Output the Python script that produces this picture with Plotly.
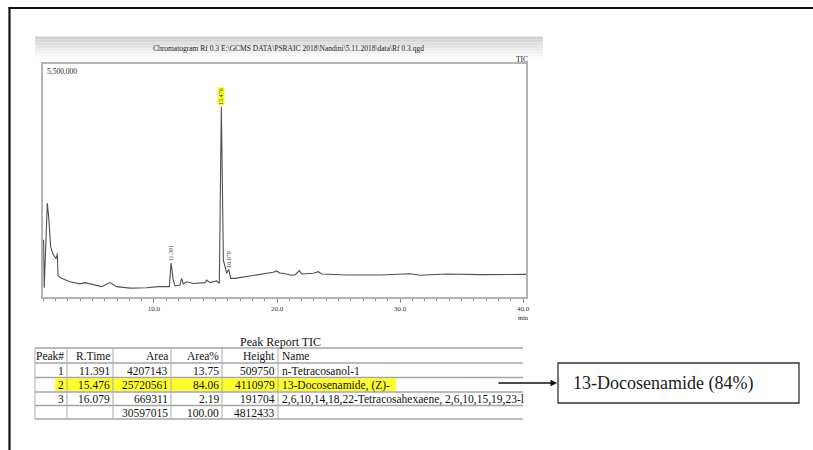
import plotly.graph_objects as go

# ---- chromatogram (TIC) read-off: retention time (min) vs. counts ----
rt_min = [0.99, 1.03, 1.08, 1.17, 1.33, 1.44, 1.60, 1.76, 2.03, 2.12, 2.14, 2.20,
          2.49, 3.17, 3.98, 4.39, 4.80, 5.75, 6.42, 6.96, 8.05, 9.40, 10.35, 11.25,
          11.391, 11.57, 11.71, 12.11, 12.25, 12.38, 12.66, 13.20, 14.15, 14.28,
          14.55, 15.10, 15.31, 15.476, 15.64, 15.77, 15.91, 16.079, 16.23, 16.59,
          17.53, 18.62, 19.70, 19.97, 20.24, 20.51, 21.06, 21.46, 21.82, 22.00,
          22.95, 23.36, 23.63, 25.66, 28.37, 30.81, 31.63, 33.80, 36.50, 40.24]
tic_counts = [1300000, 1350000, 220000, 900000, 2210000, 1900000, 1190000, 1030000,
              910000, 980000, 1030000, 500000, 440000, 360000, 310000, 340000,
              310000, 245000, 340000, 245000, 210000, 220000, 245000, 245000,
              800000, 400000, 260000, 280000, 440000, 310000, 360000, 320000,
              340000, 400000, 340000, 380000, 320000, 4490000, 870000, 680000,
              560000, 650000, 440000, 440000, 480000, 535000, 583000, 614000,
              559000, 559000, 519000, 519000, 621000, 543000, 559000, 597000,
              543000, 519000, 519000, 550000, 512000, 543000, 527000, 535000]

x_tickvals = [10, 20, 30, 40]
x_ticktext = ["10.0", "20.0", "30.0", "40.0"]
y_top_label = "5,500,000"

# ---- peak report ----
peak_no = [1, 2, 3]
r_time = [11.391, 15.476, 16.079]
area = [4207143, 25720561, 669311]
area_pct = [13.75, 84.06, 2.19]
height = [509750, 4110979, 191704]
names = ["n-Tetracosanol-1", "13-Docosenamide, (Z)-",
         "2,6,10,14,18,22-Tetracosahexaene, 2,6,10,15,19,23-l"]
headers = ["Peak#", "R.Time", "Area", "Area%", "Height", "Name"]
main_peak = 2
callout = "13-Docosenamide (84%)"
title_text = "Chromatogram Rf 0.3 E:\\GCMS DATA\\PSRAIC 2018\\Nandini\\5.11.2018\\data\\Rf 0.3.qgd"

# ---- page geometry (pixels) ----
W, H = 813, 450
L, R, T, B = 43, 526, 64, 297


def px(x):
    return (x - L) / (R - L)


def py(y):
    return (B - y) / (B - T)


SERIF = "Liberation Serif, Times New Roman, serif"


def label(text, x, y, size, xanchor="center", color="#1a1a1a"):
    return dict(text=text, xref="paper", yref="paper", x=px(x), y=py(y),
                xanchor=xanchor, yanchor="middle", showarrow=False,
                font=dict(family=SERIF, size=size, color=color))


fig = go.Figure()
fig.add_trace(go.Scatter(x=rt_min, y=tic_counts, mode="lines",
                         line=dict(color="#505050", width=1.1),
                         hoverinfo="x+y", showlegend=False))

shapes = []
annos = []

# outer frame (top and left edges; the rest runs off the page)
shapes.append(dict(type="line", xref="paper", yref="paper",
                   x0=px(8.5), x1=px(830), y0=py(8), y1=py(8),
                   line=dict(color="#111111", width=2.2), layer="above"))
shapes.append(dict(type="line", xref="paper", yref="paper",
                   x0=px(9.5), x1=px(9.5), y0=py(7), y1=py(470),
                   line=dict(color="#111111", width=2.2), layer="above"))

# grey title band fading to white
n_band = 14
for i in range(n_band):
    y0 = 36.5 + i * 1.5
    g = int(208 + (252 - 208) * i / (n_band - 1))
    shapes.append(dict(type="rect", xref="paper", yref="paper",
                       x0=px(35), x1=px(543), y0=py(y0), y1=py(y0 + 1.6),
                       fillcolor=f"rgb({g},{g},{g})", line=dict(width=0),
                       layer="below"))

annos.append(label(title_text, 288, 48.5, 7.5, color="#222"))
annos.append(label("TIC", 522, 59, 7.5, color="#222"))
annos.append(label(y_top_label, 45, 71.5, 7.5, xanchor="left", color="#222"))
annos.append(label("min", 523, 317, 6.5, color="#222"))

# retention-time labels above each peak
for i, t in enumerate(r_time):
    apex = tic_counts[rt_min.index(t)]
    hl = (peak_no[i] == main_peak)
    annos.append(dict(text=f"{t:.3f}", x=t, y=apex, xref="x", yref="y",
                      xanchor="center", yanchor="bottom", yshift=1, textangle=-90,
                      showarrow=False,
                      bgcolor="#ffff2e" if hl else "rgba(0,0,0,0)",
                      borderpad=0,
                      font=dict(family=SERIF, size=6, color="#333")))

# ---- peak report table ----
annos.append(label("Peak Report TIC", 280, 341.5, 12, color="#111"))

row_lines = [348, 363, 377.5, 392, 405.5, 419]
col_right = [67, 113, 171, 222, 278]
tbl_left, tbl_right = 35, 523

# highlight of the main compound row
r_hl = peak_no.index(main_peak) + 1
shapes.append(dict(type="rect", xref="paper", yref="paper",
                   x0=px(55), x1=px(396),
                   y0=py(row_lines[r_hl] + 1), y1=py(row_lines[r_hl + 1] - 0.5),
                   fillcolor="#ffff2e", line=dict(width=0), layer="below"))

for yl in row_lines:
    shapes.append(dict(type="line", xref="paper", yref="paper",
                       x0=px(tbl_left), x1=px(tbl_right), y0=py(yl), y1=py(yl),
                       line=dict(color="#a5a5a5", width=1.6), layer="above"))
for xl in [tbl_left] + col_right:
    shapes.append(dict(type="line", xref="paper", yref="paper",
                       x0=px(xl), x1=px(xl), y0=py(row_lines[0]), y1=py(row_lines[-1]),
                       line=dict(color="#ababab", width=1), layer="above"))

total_row = ["", "", f"{sum(area)}", f"{sum(area_pct):.2f}", f"{sum(height)}", ""]
body = [[f"{peak_no[i]}", f"{r_time[i]:.3f}", f"{area[i]}", f"{area_pct[i]:.2f}",
         f"{height[i]}", names[i]] for i in range(len(peak_no))]
rows = [headers] + body + [total_row]

for r, cells in enumerate(rows):
    yc = (row_lines[r] + row_lines[r + 1]) / 2 + 0.5
    for c, txt in enumerate(cells):
        if not txt:
            continue
        if c < 5:
            annos.append(label(txt, col_right[c] - 1.5, yc, 11.5, xanchor="right",
                               color="#111"))
        else:
            annos.append(label(txt, col_right[-1] + 1.5, yc, 11.5, xanchor="left",
                               color="#111"))

# ---- callout box and arrow ----
shapes.append(dict(type="rect", xref="paper", yref="paper",
                   x0=px(558), x1=px(799), y0=py(363), y1=py(403),
                   line=dict(color="#333333", width=1.3), layer="above"))
annos.append(label(callout, 571, 383, 18, xanchor="left"))
annos.append(dict(text="", xref="paper", yref="paper", x=px(557), y=py(383),
                  ax=-60, ay=0, axref="pixel", ayref="pixel",
                  showarrow=True, arrowhead=2, arrowsize=1, arrowwidth=1.3,
                  arrowcolor="#111"))

axis_line = dict(showline=True, mirror=True, linecolor="#b3b3b3", linewidth=1.5,
                 showgrid=False, zeroline=False)

fig.update_layout(
    width=W, height=H,
    margin=dict(l=L, r=W - R, t=T, b=H - B, pad=0),
    paper_bgcolor="white", plot_bgcolor="white",
    xaxis=dict(range=[0.98, 40.24], tickmode="array", tickvals=x_tickvals,
               ticktext=x_ticktext, ticks="outside", ticklen=4, tickcolor="#8a8a8a",
               tickfont=dict(family=SERIF, size=7, color="#333"),
               minor=dict(tickmode="linear", tick0=0, dtick=1, ticks="outside",
                          ticklen=2.5, tickcolor="#8a8a8a"),
               **axis_line),
    yaxis=dict(range=[0, 5.5e6], showticklabels=False, ticks="", **axis_line),
    shapes=shapes, annotations=annos, showlegend=False,
)

fig.write_html("out.html")
